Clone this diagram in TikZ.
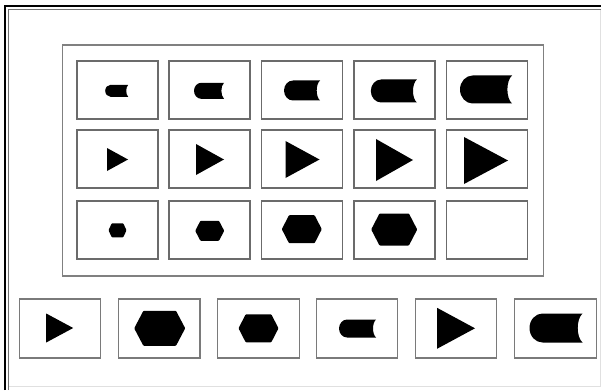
\documentclass[tikz,border=0pt]{standalone}
\begin{document}
\begin{tikzpicture}[x=1pt,y=-1pt,
  cell/.style={draw=black!58,line width=1.2pt,minimum width=81pt,minimum height=58pt,inner sep=0pt,outer sep=0pt},
  bcell/.style={draw=black!52,line width=1.2pt,minimum width=81.5pt,minimum height=59pt,inner sep=0pt,outer sep=0pt},
  board/.style={draw=black!50,line width=1.5pt,minimum width=481pt,minimum height=231pt,inner sep=0pt,outer sep=0pt},
  shp/.style={fill=black}]
\useasboundingbox (0,0) rectangle (601,390);
\fill[white] (0,0) rectangle (601,390);
\newcommand\shpB[4]{%
 \pgfmathsetmacro\xl{#1-#3/2}\pgfmathsetmacro\xr{#1+#3/2}%
 \pgfmathsetmacro\yt{#2-#4/2}\pgfmathsetmacro\yb{#2+#4/2}%
 \pgfmathsetmacro\rx{0.45*#4}\pgfmathsetmacro\ry{#4/2}%
 \pgfmathsetmacro\xk{\xr-0.22*#4}\pgfmathsetmacro\dy{0.2*#4}%
 \fill[shp] (\xr,\yt) -- (\xl+\rx,\yt) arc[start angle=270,end angle=90,x radius=\rx,y radius=\ry] -- (\xr,\yb) .. controls (\xk,\yb-\dy) and (\xk,\yt+\dy) .. (\xr,\yt) -- cycle;}
\newcommand\shpT[4]{%
 \pgfmathsetmacro\xl{#1-#3/2}\pgfmathsetmacro\xr{#1+#3/2}%
 \pgfmathsetmacro\yt{#2-#4/2}\pgfmathsetmacro\yb{#2+#4/2}%
 \fill[shp] (\xl,\yt) -- (\xl,\yb) -- (\xr,#2) -- cycle;}
\newcommand\shpH[4]{%
 \pgfmathsetmacro\xl{#1-#3/2}\pgfmathsetmacro\xr{#1+#3/2}%
 \pgfmathsetmacro\yt{#2-#4/2}\pgfmathsetmacro\yb{#2+#4/2}%
 \pgfmathsetmacro\ins{0.18*#3}%
 \fill[shp,rounded corners=0.8pt] (\xl,#2) -- (\xl+\ins,\yt) -- (\xr-\ins,\yt) -- (\xr,#2) -- (\xr-\ins,\yb) -- (\xl+\ins,\yb) -- cycle;}
% outer frame
\draw[black,line width=1.8pt] (5,390) -- (5,6) -- (601,6);
\draw[black!55,line width=1pt] (8.8,390) -- (8.8,9.8) -- (601,9.8);
\draw[black!12,line width=0.8pt] (600,10) -- (600,386) -- (9,386);
% board
\node[board] (board) at (303,160.5) {};
% grid cells
\foreach \r/\y in {1/90,2/159,3/230}{
  \foreach \c/\x in {1/117.5,2/209.5,3/302,4/394.5,5/487}{
    \node[cell] (r\r c\c) at (\x,\y) {};
  }
}
% answer options
\foreach \c/\x in {1/60,2/159.2,3/258.4,4/356.9,5/456,6/555.4}{
  \node[bcell] (opt\c) at (\x,328.5) {};
}
% row 1
\shpB{116.7}{90.8}{23}{12}
\shpB{209}{90.8}{30}{16}
\shpB{302}{90.5}{36}{20}
\shpB{393.8}{91}{46}{23}
\shpB{486}{89.5}{52}{28}
% row 2
\shpT{117.5}{159.5}{21}{23}
\shpT{210}{159.5}{28}{31}
\shpT{302.5}{159.5}{34}{37}
\shpT{394.5}{160}{37}{42}
\shpT{486}{160.5}{44}{47}
% row 3
\shpH{117.5}{230.3}{18}{14}
\shpH{209.7}{230.8}{29}{20}
\shpH{301.8}{229.2}{40}{28}
\shpH{394.2}{229.5}{46}{32}
% options
\shpT{59.7}{328}{27}{29}
\shpH{159.7}{328.3}{51}{35}
\shpH{258.5}{328.3}{40}{28}
\shpB{357.5}{328.5}{37}{18}
\shpT{456}{328.3}{38}{41}
\shpB{556}{328}{53}{29}
\end{tikzpicture}
\end{document}
